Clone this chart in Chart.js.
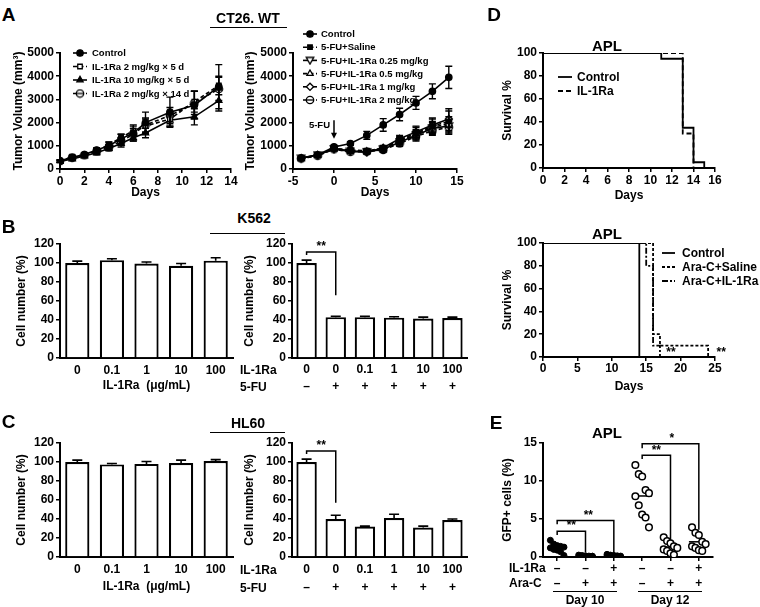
<!DOCTYPE html>
<html>
<head>
<meta charset="utf-8">
<script src="https://cdn.jsdelivr.net/npm/chart.js@4.4.1/dist/chart.umd.min.js"></script>
<style>
body { margin: 0; background: #fff; width: 760px; height: 607px; position: relative; overflow: hidden;
       font-family: 'Liberation Sans', Arial, sans-serif; font-weight: bold; color: #000; }
canvas { position: absolute; }
.t { position: absolute; white-space: nowrap; line-height: 1; }
.rule { position: absolute; height: 0; border-top: 1.6px solid #000; }
</style>
</head>
<body>
<canvas id="aLeft"></canvas>
<canvas id="aRight"></canvas>
<canvas id="bLeft"></canvas>
<canvas id="bRight"></canvas>
<canvas id="cLeft"></canvas>
<canvas id="cRight"></canvas>
<canvas id="dTop"></canvas>
<canvas id="dBottom"></canvas>
<canvas id="eDots"></canvas>
<script>
const FAMILY = "'Liberation Sans', Arial, sans-serif";

// ---------- data ----------
// A left: CT26 growth, IL-1Ra alone
const aDays = [0, 1, 2, 3, 4, 5, 6, 7, 9, 11, 13];
const aCtrl = [350, 500, 620, 820, 1000, 1300, 1550, 2000, 2450, 2750, 3550];
const aCtrlErr = [50, 80, 80, 100, 150, 200, 350, 450, 650, 600, 950];
const aIl2x5 = [330, 530, 600, 780, 1050, 1350, 1650, 1850, 2150, 2900, 3600];
const aIl2x5Err = [50, 70, 80, 90, 120, 150, 200, 300, 300, 450, 400];
const aIl10x5 = [320, 430, 560, 700, 880, 1100, 1350, 1550, 2100, 2250, 2950];
const aIl10x5Err = [40, 60, 70, 90, 100, 150, 150, 200, 250, 350, 450];
const aIl2x14 = [340, 480, 590, 760, 930, 1200, 1500, 1900, 2300, 2850, 3450];
const aIl2x14Err = [50, 60, 80, 100, 120, 150, 250, 300, 350, 500, 500];

// A right: 5-FU combinations
const fDays = [-4, -2, 0, 2, 4, 6, 8, 10, 12, 14];
const fCtrl = [470, 600, 950, 1100, 1450, 1900, 2350, 2850, 3350, 3950];
const fCtrlErr = [40, 60, 80, 80, 170, 270, 270, 280, 320, 480];
const fSaline = [450, 590, 880, 820, 780, 900, 1250, 1550, 1850, 2050];
const fSalineErr = [40, 50, 80, 80, 80, 100, 150, 250, 300, 550];
const fIl025 = [460, 600, 860, 760, 740, 850, 1150, 1450, 1750, 1850];
const fIl025Err = [40, 50, 70, 70, 80, 100, 120, 200, 250, 250];
const fIl05 = [440, 580, 900, 800, 760, 880, 1200, 1500, 1800, 1950];
const fIl05Err = [40, 50, 70, 70, 80, 100, 150, 200, 250, 300];
const fIl1 = [470, 610, 870, 780, 720, 920, 1300, 1600, 1900, 2150];
const fIl1Err = [40, 50, 70, 70, 80, 100, 150, 250, 300, 350];
const fIl2 = [450, 570, 850, 740, 750, 820, 1100, 1400, 1650, 1800];
const fIl2Err = [40, 50, 70, 70, 80, 100, 120, 200, 200, 250];

// B / C: cell number (%)
const doseLabels = ['0', '0.1', '1', '10', '100'];
const fuDose = ['0', '0', '0.1', '1', '10', '100'];
const fuSign = ['–', '+', '+', '+', '+', '+'];
const k562Il = [100, 103, 99.5, 97, 102.5];
const k562IlErr = [2, 1.5, 1.5, 2.5, 3];
const k562Fu = [100, 43, 43, 42.5, 41.5, 42];
const k562FuErr = [3, 1, 1, 1, 1.5, 1];
const hl60Il = [100, 97.5, 98, 99, 101];
const hl60IlErr = [2, 1, 2.5, 3, 1.5];
const hl60Fu = [100, 40, 32, 41, 31, 39];
const hl60FuErr = [3, 4, 0.5, 4, 1.5, 1];

// D: survival (event days, % surviving)
const d1CtrlDays = [0, 11, 13, 14, 15];
const d1CtrlSurv = [100, 95, 35, 5, 0];
const d1IlDays = [0, 13, 14];
const d1IlSurv = [100, 30, 0];
const d2CtrlDays = [0, 14];
const d2CtrlSurv = [100, 0];
const d2SalDays = [0, 16, 17, 24];
const d2SalSurv = [100, 20, 10, 0];
const d2IlDays = [0, 15, 16, 17];
const d2IlSurv = [100, 80, 10, 0];

// E: GFP+ cells (%)
const eIl1ra = ['–', '–', '+', '–', '–', '+'];
const eAraC = ['–', '+', '+', '–', '+', '+'];
const eD10Ctrl = [2.2, 1.7, 1.5, 1.4, 1.3, 1.2, 1.0, 0.9, 0.7, 0.2];
const eD10Ara = [0.25, 0.2, 0.15, 0.12, 0.1, 0.1, 0.08, 0.05, 0.05, 0.02];
const eD10AraIl = [0.35, 0.25, 0.2, 0.15, 0.12, 0.1, 0.08, 0.05, 0.03];
const eD12Ctrl = [12.1, 10.9, 10.6, 8.8, 8.4, 8.0, 6.8, 5.6, 5.2, 3.9];
const eD12Ara = [2.6, 2.1, 1.8, 1.4, 1.2, 1.0, 0.8, 0.5, 0.3];
const eD12AraIl = [3.9, 3.2, 2.9, 2.0, 1.7, 1.4, 1.2, 0.9, 0.8];

// ---------- defaults ----------
Chart.defaults.font.family = FAMILY;
Chart.defaults.font.weight = 'bold';
Chart.defaults.font.size = 12;
Chart.defaults.color = '#000';
Chart.defaults.animation = false;

// ---------- marker shapes not built into Chart.js ----------
function marker(draw) {
    const c = document.createElement('canvas');
    c.width = 10; c.height = 10;
    const g = c.getContext('2d');
    g.strokeStyle = '#000'; g.fillStyle = '#fff'; g.lineWidth = 1.3;
    draw(g);
    return c;
}
const invTriangle = marker((g) => {
    g.beginPath(); g.moveTo(1.2, 2); g.lineTo(8.8, 2); g.lineTo(5, 8.6); g.closePath(); g.fill(); g.stroke();
});
const circleLine = marker((g) => {
    g.beginPath(); g.arc(5, 5, 3.7, 0, Math.PI * 2); g.fill(); g.stroke();
    g.beginPath(); g.moveTo(1.5, 5); g.lineTo(8.5, 5); g.stroke();
});

// ---------- plugins ----------
const errorBars = {
    id: 'errorBars',
    afterDatasetsDraw(chart) {
        const { ctx } = chart;
        chart.data.datasets.forEach((ds, i) => {
            if (!ds.err) return;
            const meta = chart.getDatasetMeta(i);
            const ys = chart.scales[meta.yAxisID];
            const cap = ds.capWidth || 3.5;
            ctx.save();
            ctx.strokeStyle = '#000';
            ctx.lineWidth = ds.errWidth || 1.4;
            meta.data.forEach((el, j) => {
                const e = ds.err[j];
                if (!e) return;
                const raw = ds.data[j];
                const v = typeof raw === 'object' ? raw.y : raw;
                const top = ys.getPixelForValue(v + e);
                const bot = ys.getPixelForValue(ds.oneSided ? v : v - e);
                ctx.beginPath();
                ctx.moveTo(el.x, top); ctx.lineTo(el.x, bot);
                ctx.moveTo(el.x - cap, top); ctx.lineTo(el.x + cap, top);
                if (!ds.oneSided) { ctx.moveTo(el.x - cap, bot); ctx.lineTo(el.x + cap, bot); }
                ctx.stroke();
            });
            ctx.restore();
        });
    },
};

const insetLegend = {
    id: 'insetLegend',
    afterDraw(chart, args, o) {
        if (!o || o.rows == null) return;
        const { ctx, chartArea } = chart;
        ctx.save();
        chart.data.datasets.forEach((ds, i) => {
            if (!ds.label) return;
            const y = chartArea.top + o.rows[i];
            const x0 = chartArea.left + o.lineFrom, x1 = chartArea.left + o.lineTo;
            ctx.strokeStyle = '#000';
            ctx.lineWidth = ds.borderWidth || 1.5;
            ctx.setLineDash(ds.borderDash || []);
            ctx.beginPath(); ctx.moveTo(x0, y); ctx.lineTo(x1, y); ctx.stroke();
            ctx.setLineDash([]);
            if (ds.pointRadius) {
                ctx.fillStyle = ds.pointBackgroundColor || '#000';
                ctx.strokeStyle = '#000';
                ctx.lineWidth = ds.pointBorderWidth || 1.2;
                Chart.helpers.drawPoint(ctx, { pointStyle: ds.pointStyle, radius: ds.pointRadius, borderWidth: ctx.lineWidth, rotation: 0 }, (x0 + x1) / 2, y);
            }
            ctx.fillStyle = '#000';
            ctx.font = `bold ${o.size}px ${FAMILY}`;
            ctx.textAlign = 'left';
            ctx.textBaseline = 'middle';
            ctx.fillText(ds.label, chartArea.left + o.textX, y + 0.5);
        });
        ctx.restore();
    },
};

const marks = {
    id: 'marks',
    afterDatasetsDraw(chart, args, o) {
        if (!o) return;
        const { ctx } = chart;
        const px = (v) => chart.scales.x.getPixelForValue(v);
        const py = (v) => chart.scales.y.getPixelForValue(v);
        ctx.save();
        ctx.strokeStyle = '#000'; ctx.fillStyle = '#000'; ctx.lineWidth = 1.5;
        (o.brackets || []).forEach((b) => {
            ctx.beginPath();
            ctx.moveTo(px(b.x1), py(b.y1)); ctx.lineTo(px(b.x1), py(b.y));
            ctx.lineTo(px(b.x2), py(b.y)); ctx.lineTo(px(b.x2), py(b.y2));
            ctx.stroke();
        });
        (o.arrows || []).forEach((a) => {
            const x = px(a.x), y1 = py(a.y1), y2 = py(a.y2);
            ctx.beginPath(); ctx.moveTo(x, y1); ctx.lineTo(x, y2 - 4); ctx.stroke();
            ctx.beginPath(); ctx.moveTo(x - 3, y2 - 6); ctx.lineTo(x + 3, y2 - 6); ctx.lineTo(x, y2); ctx.closePath(); ctx.fill();
        });
        (o.texts || []).forEach((t) => {
            ctx.font = `bold ${t.size || 12}px ${FAMILY}`;
            ctx.textAlign = t.align || 'center';
            ctx.textBaseline = 'middle';
            ctx.fillText(t.text, px(t.x) + (t.dx || 0), py(t.y));
        });
        ctx.restore();
    },
};

// ---------- layout helpers ----------
function frame(id, plot, pad) {
    const c = document.getElementById(id);
    c.width = plot.r - plot.l + pad.l + pad.r;
    c.height = plot.b - plot.t + pad.t + pad.b;
    c.style.left = (plot.l - pad.l) + 'px';
    c.style.top = (plot.t - pad.t) + 'px';
}

const tickGrid = { drawOnChartArea: false, color: '#000', lineWidth: 1.5, tickLength: 4 };
const axisBorder = { color: '#000', width: 2 };

function yAxis(plot, pad, o) {
    return {
        type: 'linear', min: o.min, max: o.max,
        ticks: { stepSize: o.step, padding: 2, color: '#000', callback: (v) => String(v) },
        grid: tickGrid,
        border: axisBorder,
        title: {
            display: true, text: o.title, color: '#000', font: { size: 12, weight: 'bold' },
            padding: { top: o.titleX - (plot.l - pad.l) - 7.2, bottom: 0 },
        },
        afterFit(s) { s.width = pad.l; s.paddingTop = 0; s.paddingBottom = 0; },
    };
}

function xAxis(plot, pad, o) {
    const axis = {
        ticks: { padding: o.tickPad, color: '#000', maxRotation: 0, autoSkip: false, font: { size: 12, weight: 'bold', lineHeight: o.lineHeight || 1.2 } },
        grid: o.noTicks ? { display: false, drawTicks: false } : tickGrid,
        border: axisBorder,
        title: o.title
            ? { display: true, text: o.title, color: '#000', font: { size: 12, weight: 'bold' }, padding: { top: 0, bottom: plot.b + pad.b - o.titleY - 7.2 } }
            : { display: false },
        afterFit(s) { s.height = pad.b; s.paddingLeft = 0; s.paddingRight = 0; },
    };
    if (o.min != null) {
        Object.assign(axis, { type: 'linear', min: o.min, max: o.max });
        axis.ticks.callback = (v) => String(v);
    }
    if (o.step) axis.ticks.stepSize = o.step;
    return axis;
}

function baseOptions(pad) {
    return {
        responsive: false, animation: false, events: [],
        layout: { padding: { top: pad.t, right: pad.r, left: 0, bottom: 0 }, autoPadding: false },
    };
}

function lineSet(label, xs, ys, err, style) {
    return Object.assign({
        label, data: xs.map((x, i) => ({ x, y: ys[i] })), err,
        borderColor: '#000', borderWidth: 1.6, pointRadius: 3.2,
        pointBorderColor: '#000', pointBackgroundColor: '#000', pointBorderWidth: 1.3,
        pointStyle: 'circle', tension: 0,
    }, style);
}
const openPt = { pointBackgroundColor: '#fff' };
const dash = { borderDash: [4, 2.5] };

// ---------- A left ----------
{
    const plot = { l: 60, t: 53, r: 231, b: 169 }, pad = { l: 60, t: 12, r: 14, b: 34 };
    frame('aLeft', plot, pad);
    new Chart('aLeft', {
        type: 'line',
        data: {
            datasets: [
                lineSet('Control', aDays, aCtrl, aCtrlErr, {}),
                lineSet('IL-1Ra 2 mg/kg × 5 d', aDays, aIl2x5, aIl2x5Err, { pointStyle: 'rect', ...openPt, ...dash }),
                lineSet('IL-1Ra 10 mg/kg × 5 d', aDays, aIl10x5, aIl10x5Err, { pointStyle: 'triangle', pointRadius: 3.6 }),
                lineSet('IL-1Ra 2 mg/kg × 14 d', aDays, aIl2x14, aIl2x14Err, { pointStyle: circleLine, ...dash }),
            ],
        },
        options: {
            ...baseOptions(pad),
            plugins: {
                legend: { display: false }, tooltip: { enabled: false },
                insetLegend: { rows: [0, 13.5, 27, 40.5], lineFrom: 13, lineTo: 27, textX: 32, size: 9.5 },
            },
            scales: {
                x: xAxis(plot, pad, { min: 0, max: 14, step: 2, tickPad: 1, title: 'Days', titleY: 193 }),
                y: yAxis(plot, pad, { min: 0, max: 5000, step: 1000, title: 'Tumor Volume (mm³)', titleX: 19 }),
            },
        },
        plugins: [errorBars, insetLegend],
    });
}

// ---------- A right ----------
{
    const plot = { l: 293, t: 53, r: 457, b: 169 }, pad = { l: 50, t: 30, r: 12, b: 34 };
    frame('aRight', plot, pad);
    new Chart('aRight', {
        type: 'line',
        data: {
            datasets: [
                lineSet('Control', fDays, fCtrl, fCtrlErr, {}),
                lineSet('5-FU+Saline', fDays, fSaline, fSalineErr, { pointStyle: 'rect', ...dash }),
                lineSet('5-FU+IL-1Ra 0.25 mg/kg', fDays, fIl025, fIl025Err, { pointStyle: invTriangle }),
                lineSet('5-FU+IL-1Ra 0.5 mg/kg', fDays, fIl05, fIl05Err, { pointStyle: 'triangle', pointRadius: 3.6, ...openPt, ...dash }),
                lineSet('5-FU+IL-1Ra 1 mg/kg', fDays, fIl1, fIl1Err, { pointStyle: 'rectRot', pointRadius: 3.6, ...openPt }),
                lineSet('5-FU+IL-1Ra 2 mg/kg', fDays, fIl2, fIl2Err, { pointStyle: circleLine, ...dash }),
            ],
        },
        options: {
            ...baseOptions(pad),
            plugins: {
                legend: { display: false }, tooltip: { enabled: false },
                insetLegend: { rows: [-19, -5.8, 7.4, 20.6, 33.8, 47], lineFrom: 10, lineTo: 24, textX: 28, size: 9.5 },
                marks: {
                    arrows: [{ x: 0, y1: 2100, y2: 1300 }],
                    texts: [{ text: '5-FU', x: 0, dx: -4, y: 1900, align: 'right', size: 9.5 }],
                },
            },
            scales: {
                x: xAxis(plot, pad, { min: -5, max: 15, step: 5, tickPad: 1, title: 'Days', titleY: 193 }),
                y: yAxis(plot, pad, { min: 0, max: 5000, step: 1000, title: 'Tumor Volume (mm³)', titleX: 251 }),
            },
        },
        plugins: [errorBars, insetLegend, marks],
    });
}

// ---------- B / C bars ----------
function barChart(id, plot, pad, labels, values, errs, o) {
    frame(id, plot, pad);
    new Chart(id, {
        type: 'bar',
        data: {
            labels,
            datasets: [{
                data: values, err: errs, oneSided: true, capWidth: 5, errWidth: 1.6,
                backgroundColor: '#fff', borderColor: '#000', borderWidth: 2.2,
                barPercentage: 0.7, categoryPercentage: 1,
            }],
        },
        options: {
            ...baseOptions(pad),
            plugins: { legend: { display: false }, tooltip: { enabled: false }, marks: o.marks || {} },
            scales: {
                x: xAxis(plot, pad, { noTicks: true, tickPad: o.tickPad, lineHeight: o.lineHeight, title: o.title, titleY: o.titleY }),
                y: yAxis(plot, pad, { min: 0, max: 120, step: 20, title: 'Cell number (%)', titleX: o.titleX }),
            },
        },
        plugins: [errorBars, marks],
    });
}
const fuLabels = fuDose.map((d, i) => [d, fuSign[i]]);

barChart('bLeft', { l: 60, t: 244, r: 233, b: 358 }, { l: 60, t: 10, r: 10, b: 36 }, doseLabels, k562Il, k562IlErr,
    { tickPad: 5, title: 'IL-1Ra  (μg/mL)', titleY: 386, titleX: 22 });
barChart('bRight', { l: 292, t: 244, r: 467, b: 358 }, { l: 50, t: 12, r: 10, b: 38 }, fuLabels, k562Fu, k562FuErr,
    { tickPad: 3.5, lineHeight: 17 / 12, titleX: 250,
      marks: { brackets: [{ x1: 0, x2: 1, y: 111.5, y1: 108.5, y2: 66 }], texts: [{ text: '**', x: 0.5, y: 117 }] } });
barChart('cLeft', { l: 60, t: 443, r: 233, b: 557 }, { l: 60, t: 10, r: 10, b: 40 }, doseLabels, hl60Il, hl60IlErr,
    { tickPad: 5.5, title: 'IL-1Ra  (μg/mL)', titleY: 587, titleX: 22 });
barChart('cRight', { l: 292, t: 443, r: 467, b: 557 }, { l: 50, t: 12, r: 10, b: 40 }, fuLabels, hl60Fu, hl60FuErr,
    { tickPad: 4, lineHeight: 18 / 12, titleX: 250,
      marks: { brackets: [{ x1: 0, x2: 1, y: 111.5, y1: 108.5, y2: 57 }], texts: [{ text: '**', x: 0.5, y: 117 }] } });

// ---------- D survival ----------
function survSet(label, days, surv, style) {
    return Object.assign({
        label, data: days.map((x, i) => ({ x, y: surv[i] })), stepped: true,
        borderColor: '#000', borderWidth: 1.8, pointRadius: 0,
    }, style);
}
{
    const plot = { l: 543, t: 53, r: 715, b: 168 }, pad = { l: 46, t: 10, r: 14, b: 36 };
    frame('dTop', plot, pad);
    new Chart('dTop', {
        type: 'line',
        data: {
            datasets: [
                survSet('Control', d1CtrlDays, d1CtrlSurv, {}),
                survSet('IL-1Ra', d1IlDays, d1IlSurv, { borderDash: [5, 3] }),
            ],
        },
        options: {
            ...baseOptions(pad),
            plugins: {
                legend: { display: false }, tooltip: { enabled: false },
                insetLegend: { rows: [24, 38], lineFrom: 15, lineTo: 29, textX: 34, size: 12 },
            },
            scales: {
                x: xAxis(plot, pad, { min: 0, max: 16, step: 2, tickPad: 1, title: 'Days', titleY: 196 }),
                y: yAxis(plot, pad, { min: 0, max: 100, step: 20, title: 'Survival %', titleX: 508 }),
            },
        },
        plugins: [insetLegend],
    });
}
{
    const plot = { l: 543, t: 243, r: 715, b: 357 }, pad = { l: 46, t: 10, r: 45, b: 40 };
    frame('dBottom', plot, pad);
    new Chart('dBottom', {
        type: 'line',
        data: {
            datasets: [
                survSet('Control', d2CtrlDays, d2CtrlSurv, {}),
                survSet('Ara-C+Saline', d2SalDays, d2SalSurv, { borderDash: [3, 2] }),
                survSet('Ara-C+IL-1Ra', d2IlDays, d2IlSurv, { borderDash: [6, 2, 2, 2] }),
            ],
        },
        options: {
            ...baseOptions(pad),
            plugins: {
                legend: { display: false }, tooltip: { enabled: false },
                insetLegend: { rows: [10, 24, 38], lineFrom: 119, lineTo: 132, textX: 139, size: 12 },
                marks: { texts: [{ text: '**', x: 18.6, y: 4 }, { text: '**', x: 25.9, y: 4 }] },
            },
            scales: {
                x: xAxis(plot, pad, { min: 0, max: 25, step: 5, tickPad: 0, title: 'Days', titleY: 387 }),
                y: yAxis(plot, pad, { min: 0, max: 100, step: 20, title: 'Survival %', titleX: 508 }),
            },
        },
        plugins: [insetLegend, marks],
    });
}

// ---------- E dot plot ----------
{
    const plot = { l: 543, t: 443, r: 713, b: 557 }, pad = { l: 46, t: 15, r: 10, b: 34 };
    frame('eDots', plot, pad);
    const groups = [eD10Ctrl, eD10Ara, eD10AraIl, eD12Ctrl, eD12Ara, eD12AraIl];
    // spread points sideways by rank so they do not sit on top of each other
    const spread = (vals, i) => {
        const rank = vals.filter((v) => v > vals[i]).length;
        return ((rank % 5) - 2) * 0.12;
    };
    const dots = groups.map((vals, g) => ({
        data: vals.map((v, i) => ({ x: g + 1 + spread(vals, i), y: v })),
        pointRadius: g < 3 ? 3 : 3.3,
        pointBackgroundColor: g < 3 ? '#000' : '#fff',
        pointBorderColor: '#000',
        pointBorderWidth: g < 3 ? 1 : 1.5,
    }));
    const means = groups.map((vals, g) => {
        const m = vals.reduce((a, b) => a + b, 0) / vals.length;
        return { data: [{ x: g + 0.65, y: m }, { x: g + 1.35, y: m }], showLine: true, pointRadius: 0, borderColor: '#000', borderWidth: 1.5 };
    });
    const xs = xAxis(plot, pad, { min: 0.5, max: 6.5, tickPad: 0, lineHeight: 15 / 12 });
    xs.afterBuildTicks = (s) => { s.ticks = [1, 2, 3, 4, 5, 6].map((value) => ({ value })); };
    xs.ticks.callback = (v) => [eIl1ra[v - 1], eAraC[v - 1]];
    new Chart('eDots', {
        type: 'scatter',
        data: { datasets: [...dots, ...means] },
        options: {
            ...baseOptions(pad),
            plugins: {
                legend: { display: false }, tooltip: { enabled: false },
                marks: {
                    brackets: [
                        { x1: 1, x2: 3, y: 4.8, y1: 4.3, y2: 0.5 },
                        { x1: 1, x2: 2, y: 3.4, y1: 2.9, y2: 0.6 },
                        { x1: 4, x2: 6, y: 14.9, y1: 14.3, y2: 3.6 },
                        { x1: 4, x2: 5, y: 13.4, y1: 12.9, y2: 2.2 },
                    ],
                    texts: [
                        { text: '**', x: 2.1, y: 5.5 },
                        { text: '**', x: 1.5, y: 4.1 },
                        { text: '*', x: 5.05, y: 15.6 },
                        { text: '**', x: 4.5, y: 14.0 },
                    ],
                },
            },
            scales: {
                x: xs,
                y: yAxis(plot, pad, { min: 0, max: 15, step: 5, title: 'GFP+ cells (%)', titleX: 508 }),
            },
        },
        plugins: [marks],
    });
}

// ---------- headings and row labels (HTML text) ----------
function txt(s, x, y, size, align) {
    const d = document.createElement('div');
    d.className = 't';
    d.textContent = s;
    d.style.fontSize = size + 'px';
    d.style.left = x + 'px';
    d.style.top = y + 'px';
    d.style.transform = align === 'left' ? 'translate(0,-50%)' : 'translate(-50%,-50%)';
    document.body.appendChild(d);
}
function rule(x1, x2, y) {
    const d = document.createElement('div');
    d.className = 'rule';
    d.style.left = x1 + 'px'; d.style.width = (x2 - x1) + 'px'; d.style.top = y + 'px';
    document.body.appendChild(d);
}
txt('A', 8.5, 14, 19); txt('B', 8.5, 226, 19); txt('C', 8.5, 421, 19);
txt('D', 494, 14, 19); txt('E', 496, 422, 19);
txt('CT26. WT', 248, 18, 14); rule(210, 287, 27);
txt('K562', 254, 218, 14); rule(210, 285, 233);
txt('HL60', 248, 423, 14); rule(210, 285, 432);
txt('APL', 607, 45, 15); txt('APL', 607, 233, 15); txt('APL', 607, 432, 15);
txt('IL-1Ra', 240, 370, 12, 'left'); txt('5-FU', 240, 387, 12, 'left');
txt('IL-1Ra', 240, 570, 12, 'left'); txt('5-FU', 240, 588, 12, 'left');
txt('IL-1Ra', 509, 568, 12, 'left'); txt('Ara-C', 509, 583, 12, 'left');
rule(553, 617, 591); rule(638, 702, 591);
txt('Day 10', 585, 600, 12); txt('Day 12', 670, 600, 12);
</script>
</body>
</html>
